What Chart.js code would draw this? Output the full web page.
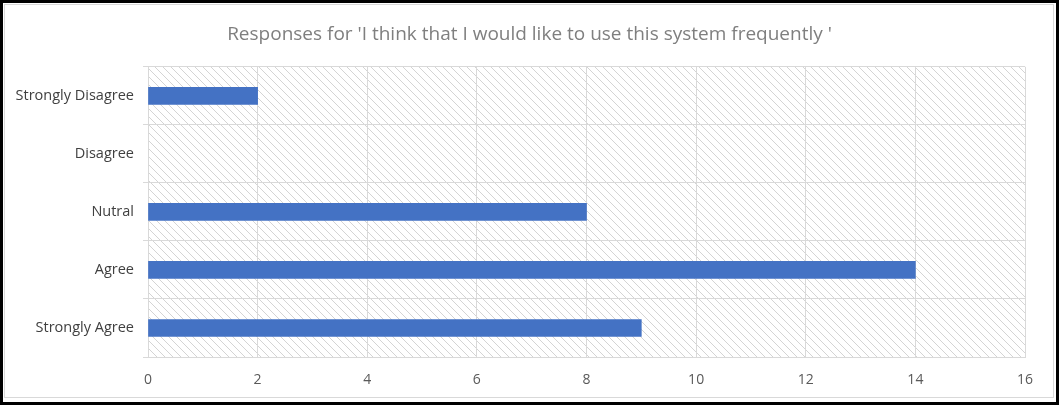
<!DOCTYPE html>
<html>
<head>
<meta charset="utf-8">
<script src="https://cdn.jsdelivr.net/npm/chart.js@4"></script>
<style>
  html, body { margin: 0; padding: 0; background: #fff; }
  #wrap { width: 1059px; height: 405px; position: relative; }
</style>
</head>
<body>
<div id="wrap"><canvas id="responseChart" width="1059" height="405"></canvas></div>
<script>
const categories = ["Strongly Disagree", "Disagree", "Nutral", "Agree", "Strongly Agree"];
const responseCounts = [2, 0, 8, 14, 9];
const xTicks = [0, 2, 4, 6, 8, 10, 12, 14, 16];
const chartTitle = "Responses for 'I think that I would like to use this system frequently '";

// diagonal hatch used behind the bars
function makeHatch() {
    const size = 8;
    const c = document.createElement("canvas");
    c.width = size;
    c.height = size;
    const g = c.getContext("2d");
    g.strokeStyle = "#d4d4d4";
    g.lineWidth = 1;
    g.beginPath();
    g.moveTo(-1, -1);
    g.lineTo(size + 1, size + 1);
    g.moveTo(-1, size - 1);
    g.lineTo(1, size + 1);
    g.moveTo(size - 1, -1);
    g.lineTo(size + 1, 1);
    g.stroke();
    return c;
}

const hatchBackground = {
    id: "hatchBackground",
    beforeDraw(chart) {
        const { ctx, chartArea } = chart;
        ctx.save();
        ctx.fillStyle = ctx.createPattern(makeHatch(), "repeat");
        ctx.fillRect(chartArea.left, chartArea.top,
            chartArea.right - chartArea.left, chartArea.bottom - chartArea.top);
        ctx.restore();
    },
};

// centre the title on the whole canvas, not on the padded box
const centreTitle = {
    id: "centreTitle",
    afterLayout(chart) {
        if (chart.titleBlock) {
            chart.titleBlock.left = 0;
            chart.titleBlock.right = chart.width;
        }
    },
};

const frame = {
    id: "frame",
    afterDraw(chart) {
        const ctx = chart.ctx;
        ctx.save();
        ctx.strokeStyle = "#d9d9d9";
        ctx.lineWidth = 1;
        ctx.strokeRect(4.5, 4.5, 1049, 393);
        ctx.strokeStyle = "#000";
        ctx.lineWidth = 3;
        ctx.strokeRect(1.5, 1.5, 1056, 402);
        ctx.restore();
    },
};

const ctx = document.getElementById("responseChart").getContext("2d");

new Chart(ctx, {
    type: "bar",
    data: {
        labels: categories,
        datasets: [
            {
                label: "Responses",
                data: responseCounts,
                backgroundColor: c => (c.raw ? "#4472c4" : "transparent"),
                barThickness: 17,
            },
        ],
    },
    options: {
        indexAxis: "y",
        responsive: false,
        animation: false,
        layout: {
            padding: { top: 0, right: 34, bottom: 14, left: 0 },
        },
        scales: {
            x: {
                min: 0,
                max: 16,
                afterBuildTicks(scale) {
                    scale.ticks = xTicks.map(v => ({ value: v }));
                },
                grid: { color: "#d9d9d9", drawTicks: false },
                border: { color: "#d9d9d9" },
                ticks: {
                    padding: 15,
                    color: "#595959",
                    font: { family: "Open Sans", size: 14 },
                },
                afterFit(scale) {
                    scale.height = 34;
                },
            },
            y: {
                grid: { color: "#d9d9d9", tickLength: 5, offset: true },
                border: { color: "#d9d9d9" },
                ticks: {
                    padding: 9,
                    color: "#404040",
                    font: { family: "Open Sans", size: 14.5 },
                },
                afterFit(scale) {
                    scale.width = 148;
                },
            },
        },
        plugins: {
            legend: { display: false },
            tooltip: { enabled: false },
            title: {
                display: true,
                text: chartTitle,
                color: "#7f7f7f",
                font: { family: "Open Sans", size: 19, weight: "normal" },
                padding: { top: 23, bottom: 21 },
            },
        },
    },
    plugins: [hatchBackground, centreTitle, frame],
});
</script>
</body>
</html>
